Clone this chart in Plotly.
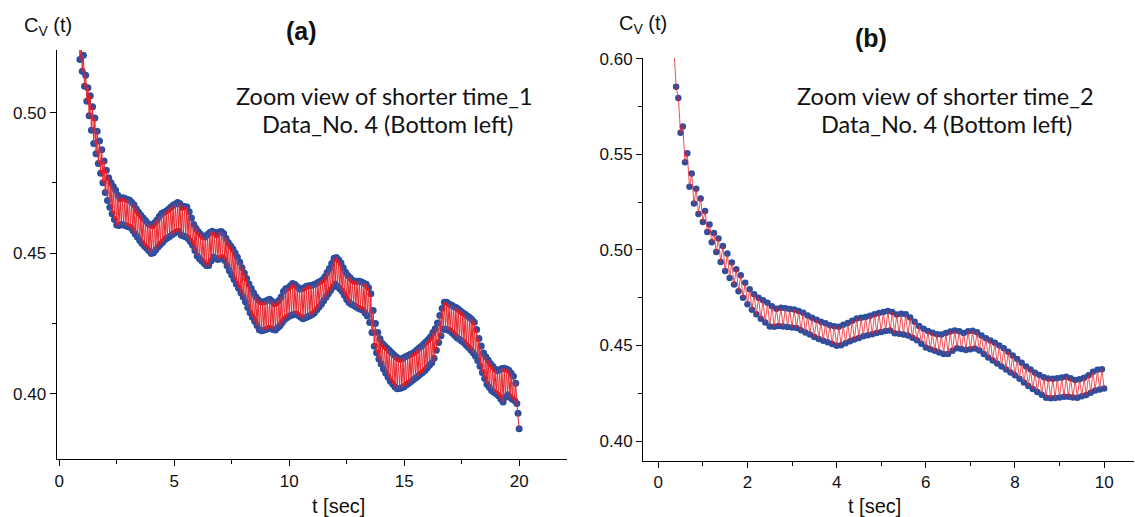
import plotly.graph_objects as go

# ---- data ----
t_start = 0.35          # first sample time [s]
t_step = 0.05           # sampling step [s]
t_end_b = 10.0          # panel (b) shows t <= 10 s

# upper points (t = 0.35, 0.45, ... 19.95)
cv_upper = [
    0.606, 0.5796, 0.5646, 0.5506, 0.5401, 0.5321, 0.5270, 0.5204, 0.5133, 0.5089,
    0.5060, 0.5021, 0.4981, 0.4934, 0.4899, 0.4868, 0.4828, 0.4795, 0.4768, 0.4750,
    0.4737, 0.4724, 0.4706, 0.4693, 0.4697, 0.4695, 0.4691, 0.4689, 0.4681, 0.4672,
    0.4657, 0.4645, 0.4635, 0.4625, 0.4616, 0.4606, 0.4601, 0.4598, 0.4608, 0.4618,
    0.4630, 0.4641, 0.4645, 0.4649, 0.4656, 0.4663, 0.4670, 0.4675, 0.4680, 0.4676,
    0.4662, 0.4666, 0.4664, 0.4647, 0.4625, 0.4602, 0.4588, 0.4576, 0.4567, 0.4559,
    0.4557, 0.4566, 0.4573, 0.4578, 0.4574, 0.4565, 0.4575, 0.4577, 0.4570, 0.4553,
    0.4538, 0.4526, 0.4515, 0.4500, 0.4485, 0.4467, 0.4448, 0.4429, 0.4410, 0.4390,
    0.4374, 0.4358, 0.4345, 0.4334, 0.4327, 0.4326, 0.4328, 0.4332, 0.4336, 0.4329,
    0.4320, 0.4323, 0.4331, 0.4344, 0.4363, 0.4373, 0.4376, 0.4384, 0.4392, 0.4388,
    0.4380, 0.4372, 0.4373, 0.4377, 0.4382, 0.4384, 0.4385, 0.4387, 0.4390, 0.4395,
    0.4400, 0.4405, 0.4416, 0.4431, 0.4445, 0.4463, 0.4482, 0.4484, 0.4476, 0.4465,
    0.4448, 0.4432, 0.4420, 0.4412, 0.4403, 0.4400, 0.4400, 0.4400, 0.4397, 0.4393,
    0.4389, 0.4377, 0.4355, 0.4296, 0.4249, 0.4217, 0.4195, 0.4178, 0.4170, 0.4162,
    0.4154, 0.4146, 0.4138, 0.4131, 0.4125, 0.4122, 0.4126, 0.4131, 0.4135, 0.4139,
    0.4143, 0.4148, 0.4155, 0.4162, 0.4168, 0.4176, 0.4184, 0.4192, 0.4202, 0.4217,
    0.4231, 0.4251, 0.4278, 0.4303, 0.4325, 0.4325, 0.4319, 0.4315, 0.4310, 0.4306,
    0.4301, 0.4294, 0.4288, 0.4282, 0.4276, 0.4271, 0.4263, 0.4254, 0.4228, 0.4196,
    0.4169, 0.4144, 0.4131, 0.4119, 0.4107, 0.4097, 0.4087, 0.4081, 0.4085, 0.4089,
    0.4090, 0.4087, 0.4083, 0.4072, 0.4062, 0.4037, 0.3930,
]

# lower points (t = 0.40, 0.50, ... 20.00)
cv_lower = [
    0.5855, 0.5614, 0.5459, 0.5331, 0.5243, 0.5189, 0.5147, 0.5094, 0.5041, 0.4989,
    0.4937, 0.4890, 0.4854, 0.4819, 0.4784, 0.4750, 0.4716, 0.4687, 0.4663, 0.4640,
    0.4620, 0.4600, 0.4598, 0.4602, 0.4600, 0.4597, 0.4594, 0.4591, 0.4580, 0.4568,
    0.4557, 0.4545, 0.4534, 0.4525, 0.4517, 0.4508, 0.4499, 0.4501, 0.4512, 0.4522,
    0.4531, 0.4539, 0.4548, 0.4554, 0.4559, 0.4565, 0.4571, 0.4576, 0.4578, 0.4564,
    0.4561, 0.4558, 0.4552, 0.4541, 0.4528, 0.4509, 0.4490, 0.4480, 0.4472, 0.4464,
    0.4456, 0.4456, 0.4472, 0.4486, 0.4482, 0.4477, 0.4481, 0.4484, 0.4474, 0.4455,
    0.4437, 0.4422, 0.4406, 0.4390, 0.4375, 0.4359, 0.4344, 0.4326, 0.4306, 0.4288,
    0.4272, 0.4257, 0.4242, 0.4227, 0.4224, 0.4225, 0.4228, 0.4232, 0.4232, 0.4228,
    0.4226, 0.4234, 0.4241, 0.4253, 0.4264, 0.4270, 0.4275, 0.4279, 0.4281, 0.4283,
    0.4278, 0.4272, 0.4266, 0.4270, 0.4273, 0.4277, 0.4281, 0.4288, 0.4298, 0.4308,
    0.4318, 0.4330, 0.4343, 0.4355, 0.4367, 0.4379, 0.4390, 0.4381, 0.4373, 0.4364,
    0.4350, 0.4335, 0.4324, 0.4318, 0.4314, 0.4309, 0.4304, 0.4300, 0.4297, 0.4287,
    0.4276, 0.4253, 0.4217, 0.4168, 0.4145, 0.4123, 0.4105, 0.4087, 0.4072, 0.4058,
    0.4044, 0.4034, 0.4023, 0.4017, 0.4018, 0.4021, 0.4024, 0.4031, 0.4037, 0.4043,
    0.4049, 0.4055, 0.4062, 0.4069, 0.4075, 0.4082, 0.4091, 0.4101, 0.4110, 0.4126,
    0.4154, 0.4182, 0.4206, 0.4230, 0.4228, 0.4226, 0.4223, 0.4215, 0.4207, 0.4199,
    0.4193, 0.4187, 0.4181, 0.4172, 0.4164, 0.4155, 0.4145, 0.4134, 0.4118, 0.4097,
    0.4075, 0.4054, 0.4033, 0.4022, 0.4011, 0.4005, 0.3999, 0.3992, 0.3981, 0.3970,
    0.3987, 0.3996, 0.3987, 0.3980, 0.3975, 0.3965, 0.3875,
]

# ---- assemble the series (points alternate upper / lower) ----
cv = []
for u, l in zip(cv_upper, cv_lower):
    cv.extend([u, l])
t = [round(t_start + i * t_step, 4) for i in range(len(cv))]
t_b = [x for x in t if x <= t_end_b + 1e-9]
cv_b = cv[:len(t_b)]

BLUE = "#2D4D9E"
RED = "#E8232B"
W, H = 1135, 517

fig = go.Figure()
# panel (a)
fig.add_trace(go.Scatter(x=t, y=cv, mode="markers", xaxis="x", yaxis="y",
                         marker=dict(size=7, color=BLUE), hoverinfo="skip"))
fig.add_trace(go.Scatter(x=t, y=cv, mode="lines", xaxis="x", yaxis="y",
                         line=dict(color=RED, width=1)))
# panel (b)
fig.add_trace(go.Scatter(x=t_b, y=cv_b, mode="markers", xaxis="x2", yaxis="y2",
                         marker=dict(size=6.5, color=BLUE), hoverinfo="skip"))
fig.add_trace(go.Scatter(x=t_b, y=cv_b, mode="lines", xaxis="x2", yaxis="y2",
                         line=dict(color=RED, width=0.8)))

tickfont = dict(family="Liberation Sans, Arial, sans-serif", size=17, color="#111")
common = dict(showline=True, linecolor="black", linewidth=1.4, ticks="outside",
              ticklen=6, tickwidth=1.3, tickcolor="black", showgrid=False,
              zeroline=False, tickfont=tickfont, automargin=False)

def px_x(p):
    return p / W

def px_y(p):
    return 1 - p / H

fig.update_layout(
    width=W, height=H, margin=dict(l=0, r=0, t=0, b=0, pad=0),
    paper_bgcolor="white", plot_bgcolor="white", showlegend=False,
    xaxis=dict(domain=[px_x(56.7), px_x(567)], range=[-0.11, 22.08], anchor="y",
               tick0=0, dtick=5,
               minor=dict(ticks="outside", ticklen=4, tickcolor="black", dtick=2.5),
               **common),
    yaxis=dict(domain=[px_y(459), px_y(50)], range=[0.3767, 0.5223], anchor="x",
               tick0=0.4, dtick=0.05, tickformat=".2f",
               minor=dict(ticks="outside", ticklen=4, tickcolor="black", dtick=0.025),
               **common),
    xaxis2=dict(domain=[px_x(643.3), px_x(1134)], range=[-0.336, 10.67], anchor="y2",
                tick0=0, dtick=2,
                minor=dict(ticks="outside", ticklen=4, tickcolor="black", dtick=1),
                **common),
    yaxis2=dict(domain=[px_y(460.7), px_y(58)], range=[0.3897, 0.6005], anchor="x2",
                tick0=0.4, dtick=0.05, tickformat=".2f",
                minor=dict(ticks="outside", ticklen=4, tickcolor="black", dtick=0.025),
                **common),
)

lab_font = dict(family="Liberation Sans, Arial, sans-serif", size=20, color="#111")
note_font = dict(family="Lato, Carlito, sans-serif", size=23.5, color="#111")
title_font = dict(family="Liberation Sans, Arial, sans-serif", size=25, color="#111")

annots = [
    ("<b>(a)</b>", 301, 31, title_font, "center"),
    ("<b>(b)</b>", 871, 38, title_font, "center"),
    ("C<sub>V</sub> (t)", 22, 27, dict(lab_font, size=20), "left"),
    ("C<sub>V</sub> (t)", 617, 24, dict(lab_font, size=20), "left"),
    ("Zoom view of shorter time_1", 384, 96, note_font, "center"),
    ("Data_No. 4 (Bottom left)", 387, 124, note_font, "center"),
    ("Zoom view of shorter time_2", 945, 96, note_font, "center"),
    ("Data_No. 4 (Bottom left)", 946, 124, note_font, "center"),
    ("t [sec]", 338, 506, lab_font, "center"),
    ("t [sec]", 874, 506, lab_font, "center"),
]
for text, x, y, font, xa in annots:
    fig.add_annotation(text=text, x=px_x(x), y=px_y(y), xref="paper", yref="paper",
                       xanchor=xa, yanchor="middle", showarrow=False, font=font)

fig.write_html("out.html",
               config={"displayModeBar": False},
               post_script="document.body.style.margin='0px';"
                           "document.body.style.overflow='hidden';")
